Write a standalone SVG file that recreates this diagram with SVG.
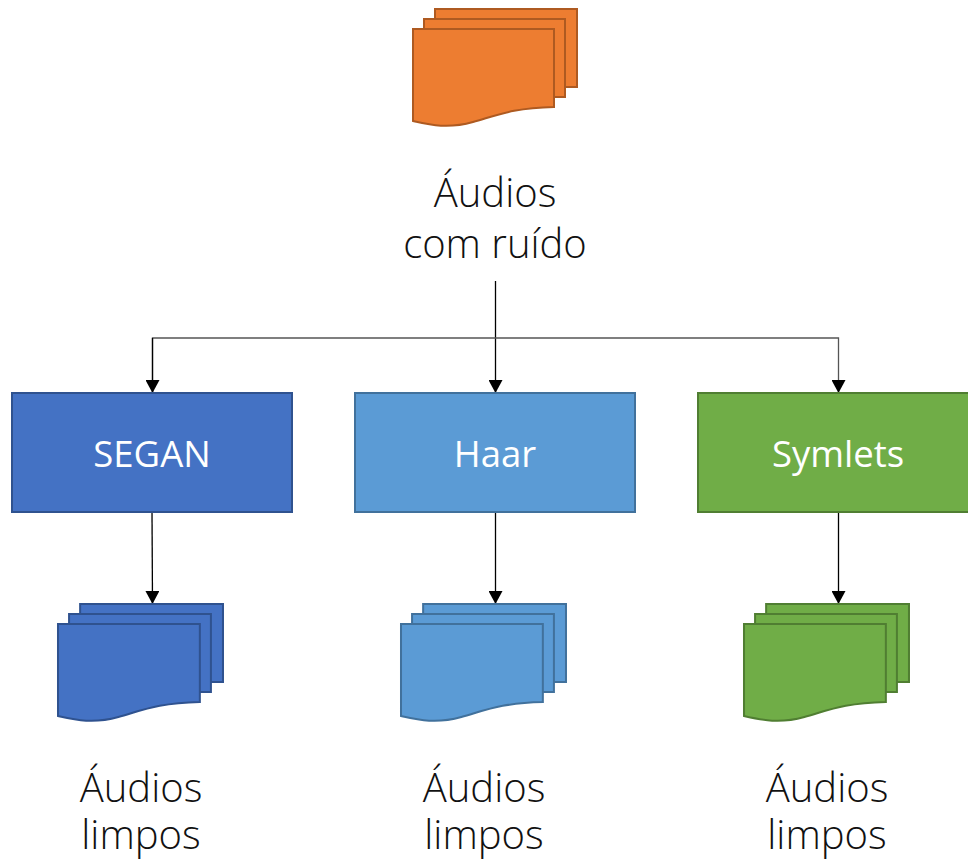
<svg xmlns="http://www.w3.org/2000/svg" width="968" height="861" viewBox="0 0 968 861">
<style>
.lbl{font-family:"Open Sans","Liberation Sans",sans-serif;font-weight:300;font-size:40px;fill:#111;text-anchor:middle}
.box{font-family:"Open Sans","Liberation Sans",sans-serif;font-size:36.5px;fill:#fff;text-anchor:middle}
.c{fill:none;stroke:#000;stroke-width:1.3}
.s{stroke-width:2}
.orange{fill:#ED7D31;stroke:#AE5A21}
.blue{fill:#4472C4;stroke:#2F528F}
.sky{fill:#5B9BD5;stroke:#41719C}
.green{fill:#70AD47;stroke:#507E32}
</style>
<defs>
<marker id="a" markerWidth="14" markerHeight="14" refX="13" refY="7" orient="auto" markerUnits="userSpaceOnUse"><path d="M0 0L13 7L0 14Z" fill="#000"/></marker>
<g id="doc">
<rect x="22" y="9" width="142" height="78"/>
<rect x="11" y="19" width="141" height="78"/>
<path d="M0 29H141V107C100 108 85 115 60 122C35 129 18 125 0 121Z"/>
</g>
</defs>
<g id="connectors">
<path class="c" d="M495.5 281V393" marker-end="url(#a)"/>
<path class="c" style="stroke:#555" d="M152.5 393V338H838.5V393" marker-end="url(#a)"/>
<path class="c" d="M152.5 338V393" marker-end="url(#a)"/>
<path class="c" d="M152 512L152.5 604" marker-end="url(#a)"/>
<path class="c" d="M495.5 512V604" marker-end="url(#a)"/>
<path class="c" d="M838.5 512V604" marker-end="url(#a)"/>
</g>
<g id="noisy" class="orange s"><use href="#doc" x="413" y="0"/></g>
<g id="label0"><text class="lbl"><tspan x="495" y="207">Áudios</tspan><tspan x="495" y="258">com ruído</tspan></text></g>
<g id="segan"><rect class="blue s" x="12" y="393" width="280" height="119"/><text class="box" x="152" y="467">SEGAN</text></g>
<g id="haar"><rect class="sky s" x="355" y="393" width="280" height="119"/><text class="box" x="495" y="467">Haar</text></g>
<g id="symlets"><rect class="green s" x="698" y="393" width="280" height="119"/><text class="box" x="838" y="467">Symlets</text></g>
<g id="out1" class="blue s"><use href="#doc" transform="translate(58,595) scale(1.006,1)"/></g>
<g id="out2" class="sky s"><use href="#doc" transform="translate(401,595) scale(1.006,1)"/></g>
<g id="out3" class="green s"><use href="#doc" transform="translate(744,595) scale(1.006,1)"/></g>
<g id="label1"><text class="lbl"><tspan x="141" y="802">Áudios</tspan><tspan x="141" y="849">limpos</tspan></text></g>
<g id="label2"><text class="lbl"><tspan x="484" y="802">Áudios</tspan><tspan x="484" y="849">limpos</tspan></text></g>
<g id="label3"><text class="lbl"><tspan x="827" y="802">Áudios</tspan><tspan x="827" y="849">limpos</tspan></text></g>
</svg>
